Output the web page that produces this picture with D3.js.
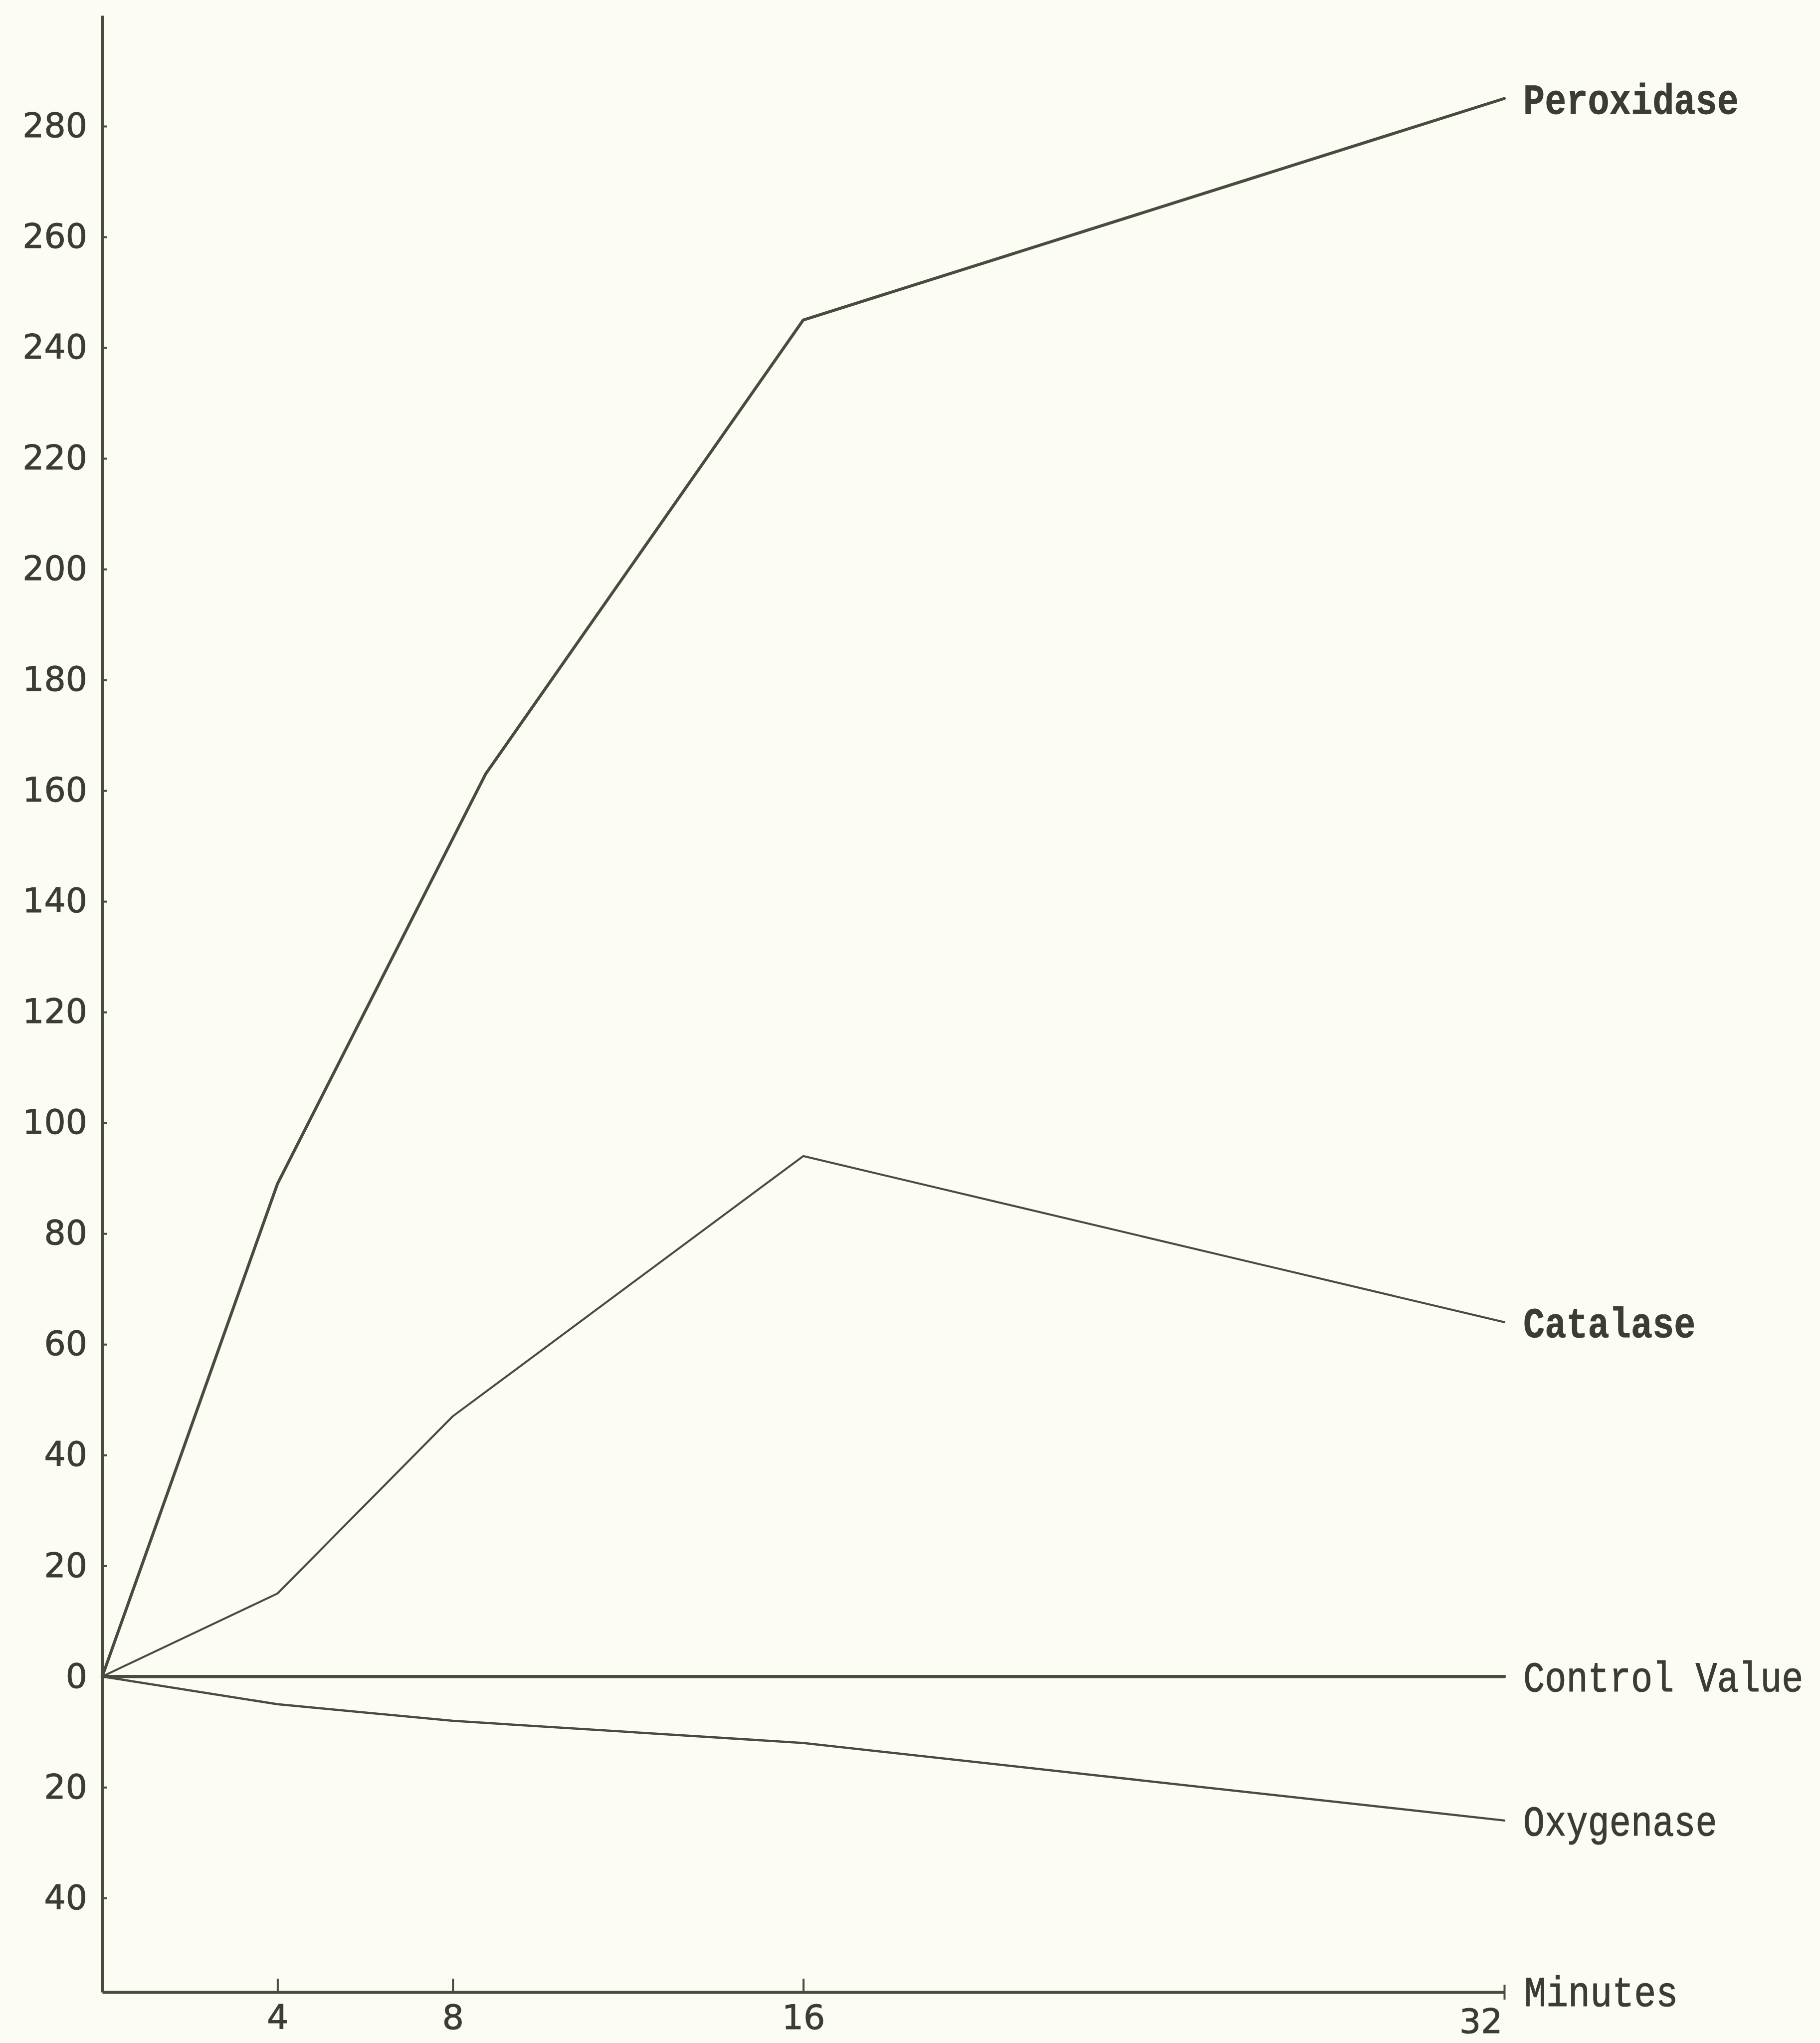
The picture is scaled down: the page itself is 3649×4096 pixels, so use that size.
<!DOCTYPE html>
<html>
<head>
<meta charset="utf-8">
<script src="https://cdn.jsdelivr.net/npm/d3@7"></script>
<style>
  html, body { margin: 0; padding: 0; background: #fcfcf5; }
  svg { display: block; }
</style>
</head>
<body>
<script>
// ---------------- data ----------------
const yTickValues = [280, 260, 240, 220, 200, 180, 160, 140, 120, 100, 80, 60, 40, 20, 0, -20, -40];
const yTickLabels = ["280", "260", "240", "220", "200", "180", "160", "140", "120", "100", "80", "60", "40", "20", "0", "20", "40"];
const xTickValues = [4, 8, 16, 32];
const xTickLabels = ["4", "8", "16", "32"];
const xAxisTitle = "Minutes";
const xDomain = [0, 32];
const yDomain = [-57, 300];

const seriesNames = ["Peroxidase", "Catalase", "Control Value", "Oxygenase"];
const peroxidase   = [[0, 0], [4, 89], [8.75, 163], [16, 245], [32, 285]];
const catalase     = [[0, 0], [4, 15], [8, 47], [16, 94], [32, 64]];
const controlValue = [[0, 0], [32, 0]];
const oxygenase    = [[0, 0], [4, -5], [8, -8], [16, -12], [32, -26]];
const seriesData = [peroxidase, catalase, controlValue, oxygenase];

// ---------------- layout / style ----------------
const W = 3649, H = 4096;
const L = { x0: 205, x1: 3016, yTop: 31, yBottom: 3994 };
const ink = "#474c3e";
const textInk = "#3a3d33";
const lineWidths = [6, 4, 6.5, 4.5];
const labelBold = [true, true, false, false];
const monoFont = "'Liberation Mono', 'Courier New', monospace";
const monoSize = 86;
const monoSqueeze = 0.837;

const svg = d3.select("body").append("svg")
  .attr("width", W).attr("height", H)
  .style("background", "#fcfcf5");

const x = d3.scaleLinear().domain(xDomain).range([L.x0, L.x1]);
const y = d3.scaleLinear().domain(yDomain).range([L.yBottom, L.yTop]);

// Y axis
const yAxis = d3.axisLeft(y)
  .tickValues(yTickValues)
  .tickFormat((d, i) => yTickLabels[i])
  .tickSizeInner(-10)
  .tickSizeOuter(0)
  .tickPadding(30);

const gy = svg.append("g")
  .attr("transform", `translate(${L.x0},0)`)
  .call(yAxis);
gy.select(".domain").attr("stroke", ink).attr("stroke-width", 6);
gy.selectAll(".tick line").attr("stroke", ink).attr("stroke-width", 4);
gy.selectAll(".tick text")
  .attr("fill", textInk)
  .attr("stroke", textInk).attr("stroke-width", 1)
  .style("font-family", "'DejaVu Sans', sans-serif")
  .style("font-size", "68px");

// X axis
const xAxis = d3.axisBottom(x)
  .tickValues(xTickValues)
  .tickFormat((d, i) => xTickLabels[i])
  .tickSizeInner(-27)
  .tickSizeOuter(0)
  .tickPadding(26);

const gx = svg.append("g")
  .attr("transform", `translate(0,${L.yBottom})`)
  .call(xAxis);
gx.select(".domain").attr("stroke", ink).attr("stroke-width", 6);
gx.selectAll(".tick line").attr("stroke", ink).attr("stroke-width", 4);
gx.selectAll(".tick text")
  .attr("fill", textInk)
  .attr("stroke", textInk).attr("stroke-width", 1)
  .style("font-family", "'DejaVu Sans', sans-serif")
  .style("font-size", "68px");
// last tick crosses the axis; its label sits lower-left
gx.selectAll(".tick").filter(d => d === xDomain[1]).each(function () {
  const t = d3.select(this);
  t.select("line").attr("y1", -15).attr("y2", 15);
  t.select("text").attr("text-anchor", "end").attr("x", -4).attr("y", 34);
});

// x axis title
svg.append("text")
  .attr("transform", `translate(${x(xDomain[1]) + 40},${L.yBottom + 28}) scale(${monoSqueeze * 1.02},1)`)
  .attr("fill", textInk)
  .attr("stroke", textInk).attr("stroke-width", 1.2)
  .style("font-family", monoFont)
  .style("font-size", monoSize + "px")
  .text(xAxisTitle);

// series lines
const line = d3.line().x(d => x(d[0])).y(d => y(d[1]));
svg.append("g").selectAll("path")
  .data(seriesData)
  .join("path")
  .attr("d", line)
  .attr("fill", "none")
  .attr("stroke", ink)
  .attr("stroke-width", (d, i) => lineWidths[i])
  .attr("stroke-linejoin", "round")
  .attr("stroke-linecap", "round");

// series labels
svg.append("g").selectAll("text")
  .data(seriesData)
  .join("text")
  .attr("transform", d => `translate(${x(d[d.length - 1][0]) + 38},${y(d[d.length - 1][1]) + 30}) scale(${monoSqueeze},1)`)
  .attr("fill", textInk)
  .attr("stroke", textInk)
  .attr("stroke-width", (d, i) => labelBold[i] ? 0.8 : 1.2)
  .style("font-family", monoFont)
  .style("font-weight", (d, i) => labelBold[i] ? "bold" : "normal")
  .style("font-size", monoSize + "px")
  .text((d, i) => seriesNames[i]);
</script>
</body>
</html>
